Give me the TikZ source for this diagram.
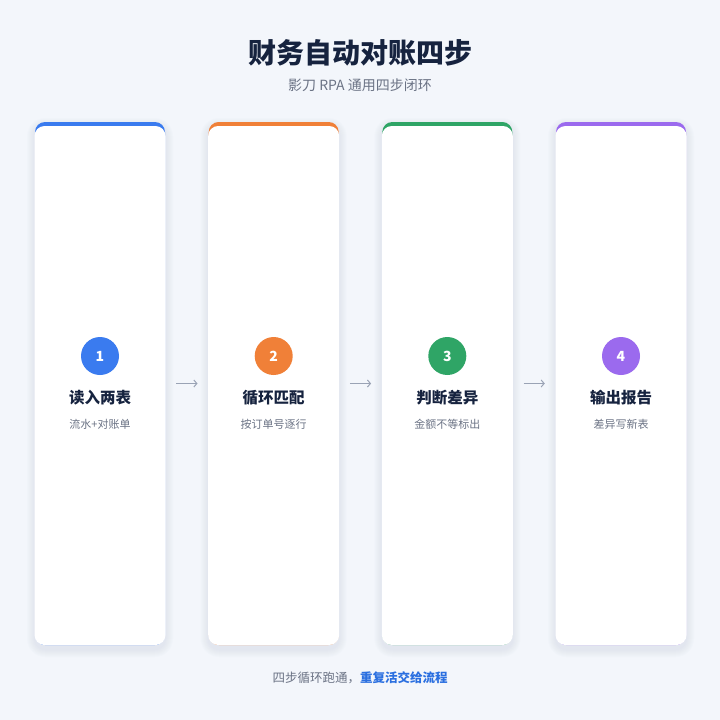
\documentclass[tikz,border=0pt]{standalone}
\usepackage{fontspec}
\setmainfont{Noto Sans CJK SC}
\usetikzlibrary{positioning,arrows.meta}
\definecolor{bgpage}{HTML}{F3F6FB}
\definecolor{inkdark}{HTML}{16233F}
\definecolor{inkgray}{HTML}{6B7385}
\definecolor{arrowgray}{HTML}{9AA3B5}
\definecolor{shadowblue}{HTML}{8A9CC0}
\definecolor{stepblue}{HTML}{3A7BEF}
\definecolor{steporange}{HTML}{F08038}
\definecolor{stepgreen}{HTML}{2FA566}
\definecolor{steppurple}{HTML}{9B6AEE}
\definecolor{linkblue}{HTML}{2A6FE0}
\tikzset{
  cardtop/.style={rounded corners=10pt, minimum width=130pt, minimum height=523pt,
    inner sep=0pt},
  cardbody/.style={fill=white, rounded corners=10pt, minimum width=131pt,
    minimum height=519pt, inner sep=0pt},
  num/.style={circle, minimum size=38pt, inner sep=0pt, text=white,
    font=\fontsize{14}{16}\selectfont\bfseries},
  steptitle/.style={text=inkdark, font=\fontsize{15.5}{18}\selectfont\bfseries},
  stepnote/.style={text=inkgray, font=\fontsize{11}{13}\selectfont},
  flow/.style={arrowgray, line width=1pt, -{Straight Barb[length=3pt,width=7pt]},
    shorten >=11pt, shorten <=11pt}
}
\begin{document}
\begin{tikzpicture}[x=1pt,y=-1pt]
\fill[bgpage] (0,0) rectangle (720,720);
\useasboundingbox (0,0) rectangle (720,720);
% heading
\node[text=inkdark, font=\fontsize{28}{32}\selectfont\bfseries] (head) at (360,53) {财务自动对账四步};
\node[text=inkgray, font=\fontsize{14}{16}\selectfont] (subhead) at (360,85) {影刀 RPA 通用四步闭环};
% cards
\foreach \i/\x/\col/\name/\note in {1/100/stepblue/读入两表/流水+对账单,
    2/273.7/steporange/循环匹配/按订单号逐行,
    3/447.3/stepgreen/判断差异/金额不等标出,
    4/621/steppurple/输出报告/差异写新表}{
  % soft shadow
  \foreach \k in {1,...,8}
    \fill[shadowblue, opacity=0.018, rounded corners=10pt+\k pt]
      (\x-65-\k,122-\k+4) rectangle (\x+65+\k,645+\k+4);
  \node[cardtop, fill=\col] (card\i) at (\x,383.5) {};
  \node[cardbody] (body\i) at (\x,385.5) {};
  \node[num, fill=\col] (num\i) at (\x,356) {\i};
  \node[steptitle] (title\i) at (\x,398) {\name};
  \node[stepnote] (note\i) at (\x,424) {\note};
}
% arrows
\draw[flow] (card1.east) -- (card2.west);
\draw[flow] (card2.east) -- (card3.west);
\draw[flow] (card3.east) -- (card4.west);
% footer
\node[font=\fontsize{12.5}{15}\selectfont] (foot) at (360,678)
  {\textcolor{inkgray}{四步循环跑通，}\textcolor{linkblue}{\bfseries 重复活交给流程}};
\end{tikzpicture}
\end{document}
